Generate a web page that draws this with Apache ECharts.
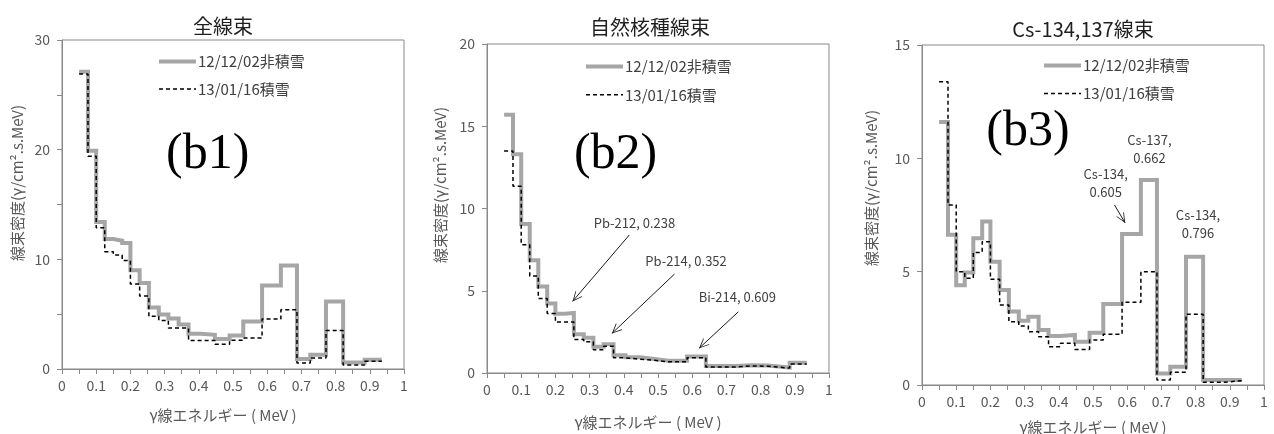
<!DOCTYPE html>
<html>
<head>
<meta charset="utf-8">
<title>γ線エネルギースペクトル</title>
<script src="https://cdn.jsdelivr.net/npm/echarts@6/dist/echarts.min.js"></script>
<style>
  html, body { margin: 0; padding: 0; background: #fff; }
  #chart { width: 1274px; height: 434px; }
</style>
</head>
<body>
<div id="chart"></div>
<script>
// Energy bin edges (MeV) shared by all three spectra
const EDGES = [0.05, 0.076, 0.1, 0.125, 0.15, 0.176, 0.2, 0.227, 0.254, 0.283, 0.311, 0.341,
               0.37, 0.405, 0.447, 0.49, 0.53, 0.585, 0.64, 0.687, 0.726, 0.772, 0.822, 0.885, 0.935];

const NAME_NOSNOW = '12/12/02非積雪';
const NAME_SNOW = '13/01/16積雪';

// Total flux density per bin
const TOTAL_NOSNOW = [27.1, 19.9, 13.4, 11.85, 11.7, 11.5, 9.0, 7.85, 5.6, 4.98, 4.6, 4.05, 3.22, 3.12, 2.74, 3.05, 4.34, 7.62, 9.43, 0.92, 1.3, 6.16, 0.6, 0.85];
const TOTAL_SNOW   = [26.9, 19.4, 12.87, 10.7, 10.4, 9.9, 7.75, 6.65, 4.8, 4.43, 3.73, 3.73, 2.6, 2.6, 2.25, 2.63, 2.82, 4.55, 5.4, 0.55, 1.0, 3.5, 0.36, 0.7];

// Natural nuclide flux density per bin
const NATURAL_NOSNOW = [15.7, 13.3, 9.06, 6.86, 5.26, 4.22, 3.6, 3.65, 2.35, 2.14, 1.6, 1.75, 1.08, 0.95, 0.85, 0.74, 0.74, 1.01, 0.42, 0.42, 0.47, 0.45, 0.33, 0.62];
const NATURAL_SNOW   = [13.5, 11.35, 7.8, 5.9, 4.53, 3.62, 3.1, 3.1, 2.03, 1.9, 1.42, 1.63, 0.92, 0.84, 0.77, 0.68, 0.68, 0.93, 0.37, 0.37, 0.43, 0.41, 0.3, 0.54];

// Cs-134,137 flux density per bin
const CS_NOSNOW = [11.6, 6.63, 4.4, 4.96, 6.47, 7.21, 5.44, 4.19, 3.24, 2.84, 3.01, 2.43, 2.16, 2.21, 1.91, 2.3, 3.57, 6.66, 9.04, 0.51, 0.81, 5.66, 0.22, 0.22];
const CS_SNOW   = [13.38, 7.94, 5.0, 4.71, 5.85, 6.32, 4.66, 3.53, 2.79, 2.6, 2.35, 2.13, 1.69, 1.84, 1.57, 1.98, 2.24, 3.65, 5.0, 0.22, 0.56, 3.12, 0.12, 0.19];

const PANEL_TITLES = ['全線束', '自然核種線束', 'Cs-134,137線束'];
const PANEL_TAGS = ['(b1)', '(b2)', '(b3)'];
const Y_MAX = [30, 20, 15];
const Y_STEP = [10, 5, 5];

// Peak annotations: [label, label x, label y, arrow from x, from y, arrow to x, to y]
const NATURAL_PEAKS = [
  ['Pb-212, 0.238', 0.431, 9.1, 0.416, 8.39, 0.25, 4.35],
  ['Pb-214, 0.352', 0.582, 6.8, 0.548, 6.01, 0.365, 2.4],
  ['Bi-214, 0.609', 0.732, 4.6, 0.735, 3.72, 0.62, 1.5]
];
const CS_PEAKS = [
  ['Cs-137,\n0.662', 0.665, 10.42, null],
  ['Cs-134,\n0.605', 0.537, 8.9, [0.563, 7.94, 0.594, 7.15]],
  ['Cs-134,\n0.796', 0.807, 7.1, null]
];

const FONT = "'Noto Sans CJK JP', 'Noto Sans', sans-serif";
const AXIS_GRAY = '#898989';
const TEXT_GRAY = '#595959';
const CHEVRON = 'path://M10,0 L20,14 L18.2,14 L10,2.8 L1.8,14 L0,14 Z';

const NOSNOW_LINE = { color: '#a6a6a6', width: 4 };
const SNOW_LINE = { color: '#000', width: 1.5, type: [4, 3] };

// Step outline: each bin value held from its lower edge to the next edge
function stepData(values) {
  const pts = values.map((v, i) => [EDGES[i], v]);
  pts.push([EDGES[EDGES.length - 1], values[values.length - 1]]);
  return pts;
}

const GRIDS = [
  { left: 62, top: 40, width: 342, height: 329 },
  { left: 487, top: 44, width: 342, height: 329 },
  { left: 922, top: 45, width: 342, height: 340 }
];
const TITLE_POS = [[218, 11], [645, 12], [1078, 14]];
const LEGEND_POS = [[157, 54, 12.6], [584, 59, 13.3], [1042, 58, 13]];
const TAG_POS = [[0.426, 19.5], [0.376, 13.26], [0.31, 11.17]];
const YNAME_POS = [[17, 183], [440, 185], [871, 188]];
const XNAME_POS = [[223, 415], [648, 422], [1093, 427]];

const chart = echarts.init(document.getElementById('chart'), null, { renderer: 'canvas' });

const grid = GRIDS.map(g => Object.assign({ show: true, borderColor: AXIS_GRAY, borderWidth: 1, containLabel: false }, g));

const xAxis = GRIDS.map((g, i) => ({
  type: 'value', gridIndex: i, min: 0, max: 1, interval: 0.1,
  axisLine: { show: true, onZero: false, lineStyle: { color: AXIS_GRAY, width: 1 } },
  axisTick: { show: true, length: 5, lineStyle: { color: AXIS_GRAY } },
  minorTick: { show: true, splitNumber: 2, length: 5, lineStyle: { color: AXIS_GRAY } },
  splitLine: { show: false },
  axisLabel: { fontSize: 14, color: TEXT_GRAY, fontFamily: FONT, margin: 10 }
}));

const yAxis = GRIDS.map((g, i) => ({
  type: 'value', gridIndex: i, min: 0, max: Y_MAX[i], interval: Y_STEP[i],
  axisLine: { show: true, lineStyle: { color: AXIS_GRAY, width: 1 } },
  axisTick: { show: true, length: 5, lineStyle: { color: AXIS_GRAY } },
  minorTick: { show: i === 0, splitNumber: 2, length: 5, lineStyle: { color: AXIS_GRAY } },
  splitLine: { show: false },
  axisLabel: { fontSize: 14, color: TEXT_GRAY, fontFamily: FONT, margin: 12 }
}));

function tagPoint(i) {
  return {
    name: PANEL_TAGS[i], coord: TAG_POS[i],
    symbol: 'circle', symbolSize: 1, itemStyle: { color: 'rgba(0,0,0,0)' },
    label: { show: true, position: 'inside', formatter: '{b}', color: '#000',
             fontFamily: "'Liberation Serif', 'DejaVu Serif', serif", fontSize: 50 }
  };
}

function notePoint(text, x, y) {
  return {
    name: text, coord: [x, y],
    symbol: 'circle', symbolSize: 1, itemStyle: { color: 'rgba(0,0,0,0)' },
    label: { show: true, position: 'inside', formatter: '{b}', color: '#404040',
             fontFamily: FONT, fontSize: 13, lineHeight: 17.5 }
  };
}

const arrowStyle = {
  silent: true, animation: false,
  symbol: ['none', CHEVRON], symbolSize: [9, 10], symbolOffset: [[0, 0], [0, 5]],
  lineStyle: { color: '#1a1a1a', width: 1, type: 'solid' },
  label: { show: false }, emphasis: { disabled: true }
};

const panels = [
  { nosnow: TOTAL_NOSNOW, snow: TOTAL_SNOW, notes: [], arrows: [] },
  {
    nosnow: NATURAL_NOSNOW, snow: NATURAL_SNOW,
    notes: NATURAL_PEAKS.map(p => notePoint(p[0], p[1], p[2])),
    arrows: NATURAL_PEAKS.map(p => [{ coord: [p[3], p[4]] }, { coord: [p[5], p[6]] }])
  },
  {
    nosnow: CS_NOSNOW, snow: CS_SNOW,
    notes: CS_PEAKS.map(p => notePoint(p[0], p[1], p[2])),
    arrows: CS_PEAKS.filter(p => p[3]).map(p => [{ coord: [p[3][0], p[3][1]] }, { coord: [p[3][2], p[3][3]] }])
  }
];

const series = [];
panels.forEach((p, i) => {
  series.push({
    name: NAME_NOSNOW, type: 'line', xAxisIndex: i, yAxisIndex: i,
    step: 'end', symbol: 'none', data: stepData(p.nosnow),
    lineStyle: Object.assign({ join: 'miter' }, NOSNOW_LINE),
    itemStyle: { color: NOSNOW_LINE.color },
    markLine: Object.assign({ data: p.arrows }, arrowStyle),
    markPoint: { silent: true, animation: false, data: p.notes.concat([tagPoint(i)]) },
    z: 2
  });
  series.push({
    name: NAME_SNOW, type: 'line', xAxisIndex: i, yAxisIndex: i,
    step: 'end', symbol: 'none', data: stepData(p.snow),
    lineStyle: SNOW_LINE,
    itemStyle: { color: SNOW_LINE.color },
    z: 3
  });
});

const title = PANEL_TITLES.map((t, i) => ({
  text: t, left: TITLE_POS[i][0], top: TITLE_POS[i][1], textAlign: 'center',
  textStyle: { fontSize: 20, fontWeight: 'normal', color: '#1f1f1f', fontFamily: FONT }
}));

const legend = LEGEND_POS.map(l => ({
  left: l[0], top: l[1], orient: 'vertical', itemGap: l[2], padding: 0,
  itemWidth: 37, itemHeight: 14, selectedMode: false,
  textStyle: { fontSize: 15, color: '#404040', fontFamily: FONT, padding: [0, 0, 0, -3] },
  data: [
    { name: NAME_NOSNOW, itemStyle: { opacity: 0 }, lineStyle: NOSNOW_LINE },
    { name: NAME_SNOW, itemStyle: { opacity: 0 }, lineStyle: SNOW_LINE }
  ]
}));

const yName = '線束密度(γ/cm².s.MeV)';
const graphic = [];
YNAME_POS.forEach(p => graphic.push({
  type: 'text', x: p[0], y: p[1], rotation: Math.PI / 2, silent: true,
  style: { text: yName, fill: TEXT_GRAY, font: '15px ' + FONT, textAlign: 'center', textVerticalAlign: 'middle' }
}));
XNAME_POS.forEach(p => graphic.push({
  type: 'text', x: p[0], y: p[1], silent: true,
  style: { text: 'γ線エネルギー ( MeV )', fill: TEXT_GRAY, font: '15px ' + FONT, textAlign: 'center', textVerticalAlign: 'middle' }
}));

chart.setOption({
  backgroundColor: '#fff',
  animation: false,
  title, legend, grid, xAxis, yAxis, series, graphic
});
</script>
</body>
</html>
